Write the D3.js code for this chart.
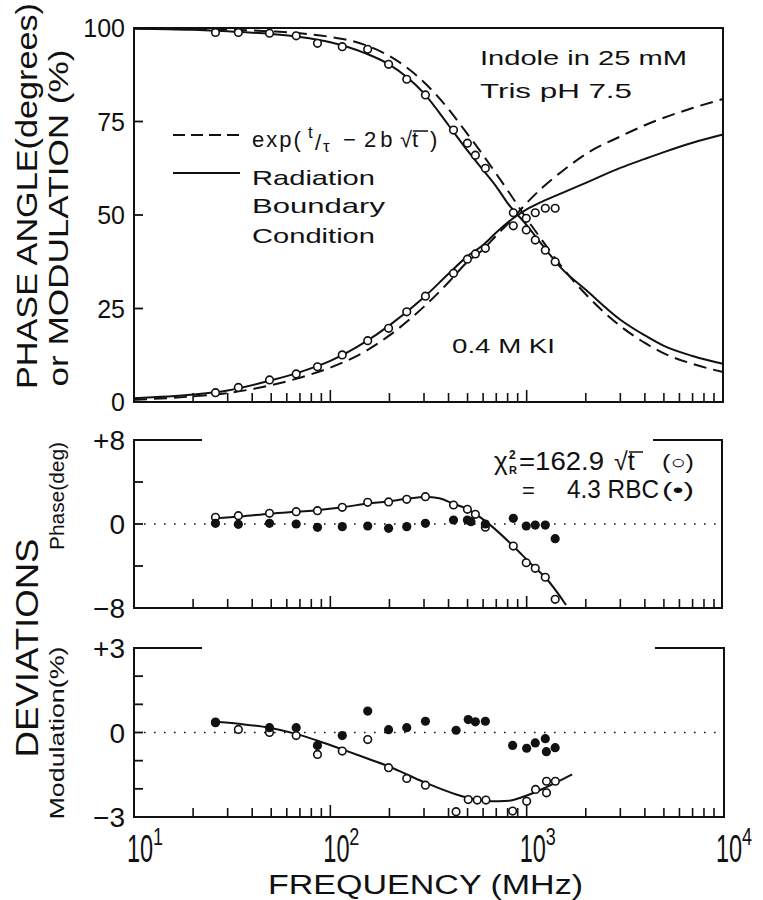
<!DOCTYPE html>
<html><head><meta charset="utf-8">
<script src="https://cdn.jsdelivr.net/npm/d3@7"></script>
<style>
body{margin:0;background:#fff}
svg{display:block}
text{font-family:"Liberation Sans",Arial,sans-serif;fill:#111}
</style>
</head><body>
<svg id="c" width="763" height="900"></svg>
<script>
// ---------- DATA ----------
// fitted curves, top panel (frequency in MHz)
const curveFreq   = [10,20,30,50,70,100,150,200,300,400,500,600,700,800,1000,1200,1500,2000,3000,4000,5000,7000,10000];
const modRBC      = [99.8,99.5,99.1,98.4,97.6,96.2,93.3,90.2,82.5,74,67.2,62,57.6,53.2,47.3,42,35.8,30,22,17.8,15,12.3,10.2];
const modSqrt     = [99.9,99.8,99.6,99.1,98.6,97.6,95.5,92.5,85.5,78.3,71.6,66,61,56.6,49,43.2,36.3,28.8,20.3,15.8,13,10.2,8];
const phaseRBC    = [1,2,3.1,5.8,8,11,16,20.5,28,34.3,39,42,45.3,48,51.5,53.6,55.8,58.6,62.6,65,66.8,69.3,71.5];
const phaseSqrt   = [0.6,1.5,2.4,4.5,6.5,9.2,13.5,17.8,25.5,32,37.5,40.8,44.5,47.6,53.2,57.3,61.5,66.3,71,74,76,78.6,81];

// measured points, top panel
const dataFreq    = [26,34,49,67,86,115,155,198,245,305,424,499,548,616,855,995,1106,1244,1397];
const phaseData   = [2.5,3.9,5.9,7.5,9.4,12.6,16.4,19.7,24.1,28.3,34.4,38.2,39.6,41.1,47.1,49.1,50.6,51.8,51.8];
const modData     = [98.8,98.8,98.6,97.9,95.9,95.0,94.3,90.3,86.3,82.1,72.7,69.2,66,62.5,50.6,46,43.3,40.6,37.5];

// phase deviations (degrees)
const phDevOpenFreq  = [26,34,49,67,86,115,155,198,245,305,424,499,548,616,855,995,1106,1244,1397];
const phDevOpen      = [0.64,0.79,1.02,1.17,1.27,1.59,2.06,2.1,2.35,2.6,1.81,1.4,0.92,-0.3,-2.1,-3.69,-4.22,-5.07,-7.17];
const phDevFillFreq  = [26,34,49,67,86,115,155,198,245,305,424,499,520,616,855,995,1106,1244,1397];
const phDevFill      = [0.06,-0.03,0.06,0,-0.32,-0.25,-0.19,-0.41,-0.25,0.06,0.38,0.38,0.22,0,0.54,-0.19,-0.1,-0.1,-1.4];
const phFitFreq      = [26,35,49,68,86,118,155,196,244,305,359,418,489,574,667,843,1066,1256,1587];
const phFit          = [0.55,0.72,0.98,1.18,1.32,1.62,1.95,2.15,2.4,2.58,2.45,1.97,1.49,0.7,-0.25,-2.0,-3.9,-5.17,-7.71];

// modulation deviations (%)
const mdDevOpenFreq  = [26,34,49,67,86,115,155,198,245,305,437,504,560,620,848,1000,1110,1262,1262,1400];
const mdDevOpen      = [0.35,0.11,0.0,-0.11,-0.78,-0.66,-0.25,-1.25,-1.63,-1.87,-2.81,-2.38,-2.4,-2.4,-2.79,-2.44,-2.02,-2.14,-1.73,-1.73];
const mdDevFillFreq  = [26,49,67,86,115,155,198,245,305,437,504,548,616,848,1000,1106,1244,1260,1397];
const mdDevFill      = [0.37,0.17,0.17,-0.46,-0.11,0.76,0.1,0.17,0.4,0.08,0.46,0.38,0.4,-0.46,-0.56,-0.37,-0.22,-0.68,-0.54];
const mdFitFreq      = [27,35,49,67,87,115,158,198,247,309,438,552,642,814,944,1254,1705];
const mdFit          = [0.37,0.3,0.17,-0.05,-0.3,-0.6,-0.95,-1.2,-1.5,-1.8,-2.2,-2.38,-2.44,-2.42,-2.3,-1.95,-1.49];

// tick labels
const topTicks   = [0,25,50,75,100];
const phTicks    = [-8,0,8];
const phTickLbl  = ["\u22128","0","+8"];
const mdTicks    = [-3,0,3];
const mdTickLbl  = ["\u22123","0","+3"];
const decades    = [1,2,3,4];

// ---------- DRAWING ----------
const svg = d3.select("#c");
const x = d3.scaleLog().domain([10,10000]).range([134,723]);
const yTop = d3.scaleLinear().domain([0,100]).range([402,28]);
const yPh  = d3.scaleLinear().domain([-8,8]).range([608,440]);
const yMd  = d3.scaleLinear().domain([-3,3]).range([817,648]);
const ink = "#111";

function line(fx, vy, ys){
  return d3.line().x((d,i)=>x(fx[i])).y(d=>ys(d)).curve(d3.curveMonotoneX)(vy);
}
function bottomTicks(y0){
  const t = x.ticks().filter(v=>v>10 && v<10000);
  svg.append("g").selectAll("line").data(t).join("line")
    .attr("x1",d=>x(d)).attr("x2",d=>x(d))
    .attr("y1",y0).attr("y2",d=> y0 - ([100,1000].includes(d)?12:9))
    .attr("stroke",ink).attr("stroke-width",1.6);
}
function leftTicks(vals, ys){
  svg.append("g").selectAll("line").data(vals).join("line")
    .attr("x1",134).attr("x2",143).attr("y1",d=>ys(d)).attr("y2",d=>ys(d))
    .attr("stroke",ink).attr("stroke-width",1.8);
}
function tickLabels(vals, lbls, ys, fs){
  svg.append("g").selectAll("text").data(vals).join("text")
    .attr("x",125).attr("y",d=>ys(d)).attr("dy","0.36em")
    .attr("text-anchor","end").attr("font-size",fs).text((d,i)=>lbls[i]);
}

// ---- top panel frame ----
svg.append("rect").attr("x",134).attr("y",yTop(100)).attr("width",x(10000)-134)
  .attr("height",yTop(0)-yTop(100)).attr("fill","none").attr("stroke",ink).attr("stroke-width",2);
leftTicks([25,50,75], yTop);
bottomTicks(yTop(0));
tickLabels(topTicks, topTicks.map(String), yTop, 25);

// curves
const topCurves = [[modRBC,null],[modSqrt,"13,7"],[phaseRBC,null],[phaseSqrt,"13,7"]];
topCurves.forEach(([v,dash])=>{
  svg.append("path").attr("d",line(curveFreq,v,yTop)).attr("fill","none")
    .attr("stroke",ink).attr("stroke-width",2).attr("stroke-dasharray",dash);
});
[[phaseData],[modData]].forEach(([v])=>{
  svg.append("g").selectAll("circle").data(v).join("circle")
    .attr("cx",(d,i)=>x(dataFreq[i])).attr("cy",d=>yTop(d)).attr("r",3.8)
    .attr("fill","#fff").attr("stroke",ink).attr("stroke-width",1.6);
});

// legend
svg.append("line").attr("x1",173).attr("x2",240).attr("y1",135).attr("y2",135)
  .attr("stroke",ink).attr("stroke-width",2.2).attr("stroke-dasharray","12,6");
svg.append("line").attr("x1",173).attr("x2",240).attr("y1",173).attr("y2",173)
  .attr("stroke",ink).attr("stroke-width",2.2);
const fx = svg.append("text").attr("y",147).attr("font-size",22);
fx.append("tspan").attr("x",252).attr("letter-spacing",2).text("exp(");
fx.append("tspan").attr("x",308).attr("dy",-9).attr("font-size",17).text("t");
fx.append("tspan").attr("x",315).attr("dy",12).text("/");
fx.append("tspan").attr("x",323).attr("dy",2).attr("font-size",17).text("\u03c4");
fx.append("tspan").attr("x",343).attr("dy",-5).text("\u2212");
fx.append("tspan").attr("x",364).attr("letter-spacing",4).text("2b");
fx.append("tspan").attr("x",400).text("\u221at");
fx.append("tspan").attr("x",430).text(")");
svg.append("line").attr("x1",413).attr("x2",428).attr("y1",131).attr("y2",131).attr("stroke",ink).attr("stroke-width",1.5);
[["Radiation",185,123],["Boundary",213,133],["Condition",243,123]].forEach(([t,yb,w])=>{
  svg.append("text").attr("x",252).attr("y",yb).attr("font-size",21)
    .attr("textLength",w).attr("lengthAdjust","spacingAndGlyphs").text(t);
});
svg.append("text").attr("x",480).attr("y",65).attr("font-size",21).attr("textLength",207).attr("lengthAdjust","spacingAndGlyphs").text("Indole in 25 mM");
svg.append("text").attr("x",480).attr("y",98).attr("font-size",21).attr("textLength",152).attr("lengthAdjust","spacingAndGlyphs").text("Tris  pH 7.5");
svg.append("text").attr("x",452).attr("y",353).attr("font-size",21).attr("textLength",103).attr("lengthAdjust","spacingAndGlyphs").text("0.4 M  KI");

// ---- deviation panel frames ----
function devFrame(ys, top, bot, rightEdge, segL, segR){
  const g = svg.append("g").attr("fill","none").attr("stroke",ink).attr("stroke-width",2);
  g.append("path").attr("d",`M${segR},${top}H${rightEdge}V${bot}H134V${top}H${segL}`);
  svg.append("line").attr("x1",134).attr("x2",rightEdge).attr("y1",ys(0)).attr("y2",ys(0))
    .attr("stroke",ink).attr("stroke-width",1.6).attr("stroke-dasharray","1.6,8.4");
  bottomTicks(bot);
}
// ---- middle panel (phase deviations) ----
devFrame(yPh, yPh(8), yPh(-8), 722, 202, 653);
leftTicks([-4,0,4], yPh);
tickLabels(phTicks, phTickLbl, yPh, 28);
svg.append("path").attr("d",line(phFitFreq,phFit,yPh)).attr("fill","none").attr("stroke",ink).attr("stroke-width",2);
svg.append("g").selectAll("circle").data(phDevOpen).join("circle")
  .attr("cx",(d,i)=>x(phDevOpenFreq[i])).attr("cy",d=>yPh(d)).attr("r",3.8)
  .attr("fill","#fff").attr("stroke",ink).attr("stroke-width",1.6);
svg.append("g").selectAll("circle").data(phDevFill).join("circle")
  .attr("cx",(d,i)=>x(phDevFillFreq[i])).attr("cy",d=>yPh(d)).attr("r",4.6).attr("fill",ink);

// chi-square annotation
const cx1 = svg.append("text").attr("y",470).attr("font-size",26);
cx1.append("tspan").attr("x",494).text("\u03c7");
cx1.append("tspan").attr("x",509).attr("dy",-11).attr("font-size",12).attr("font-weight","bold").text("2");
cx1.append("tspan").attr("x",509).attr("dy",15).attr("font-size",11).attr("font-weight","bold").text("R");
svg.append("text").attr("x",519).attr("y",470).attr("font-size",25).attr("textLength",85).attr("lengthAdjust","spacingAndGlyphs").text("=162.9");
svg.append("text").attr("x",614).attr("y",470).attr("font-size",25).text("\u221at");
svg.append("line").attr("x1",629).attr("x2",643).attr("y1",452).attr("y2",452).attr("stroke",ink).attr("stroke-width",1.5);
svg.append("text").attr("x",662).attr("y",469).attr("font-size",20).attr("textLength",32).attr("lengthAdjust","spacingAndGlyphs").text("(\u25cb)");
svg.append("text").attr("x",522).attr("y",498).attr("font-size",22).text("=");
svg.append("text").attr("x",567).attr("y",498).attr("font-size",25).attr("textLength",92).attr("lengthAdjust","spacingAndGlyphs").text("4.3 RBC");
svg.append("text").attr("x",662).attr("y",497).attr("font-size",20).attr("textLength",32).attr("lengthAdjust","spacingAndGlyphs").text("(\u2022)");

// ---- bottom panel (modulation deviations) ----
devFrame(yMd, yMd(3), yMd(-3), 724, 202, 655);
leftTicks([-2,-1,0,1,2], yMd);
tickLabels(mdTicks, mdTickLbl, yMd, 28);
svg.append("path").attr("d",line(mdFitFreq,mdFit,yMd)).attr("fill","none").attr("stroke",ink).attr("stroke-width",2);
svg.append("g").selectAll("circle").data(mdDevOpen).join("circle")
  .attr("cx",(d,i)=>x(mdDevOpenFreq[i])).attr("cy",d=>yMd(d)).attr("r",3.8)
  .attr("fill","#fff").attr("stroke",ink).attr("stroke-width",1.6);
svg.append("g").selectAll("circle").data(mdDevFill).join("circle")
  .attr("cx",(d,i)=>x(mdDevFillFreq[i])).attr("cy",d=>yMd(d)).attr("r",4.6).attr("fill",ink);

// ---- x tick labels ----
decades.forEach(k=>{
  const xp = x(Math.pow(10,k));
  svg.append("text").attr("transform",`translate(${xp-7},861.5) scale(0.62,1)`)
    .attr("font-size",38).text("10");
  svg.append("text").attr("transform",`translate(${xp+19},845) scale(0.75,1)`)
    .attr("font-size",24).text(String(k));
});
svg.append("text").attr("x",268).attr("y",894.2).attr("font-size",27)
  .attr("textLength",315).attr("lengthAdjust","spacingAndGlyphs").text("FREQUENCY (MHz)");

// ---- axis titles ----
function vtext(t,xb,yc,fs,len){
  svg.append("text").attr("transform",`translate(${xb},${yc}) rotate(-90)`)
    .attr("text-anchor","middle").attr("font-size",fs)
    .attr("textLength",len).attr("lengthAdjust","spacingAndGlyphs").text(t);
}
vtext("PHASE ANGLE(degrees)",37,196,29,386);
vtext("or MODULATION (%)",68,218,28,337);
vtext("DEVIATIONS",38,648,31,219);
vtext("Phase(deg)",64,496,20,108);
vtext("Modulation(%)",64,733,20,173);
</script>
</body></html>
